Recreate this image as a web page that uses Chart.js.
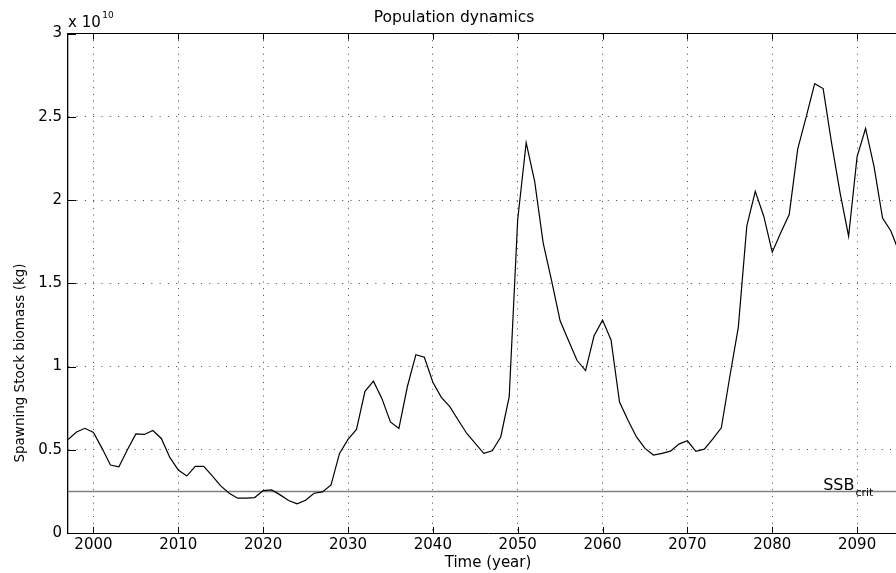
<!DOCTYPE html>
<html>
<head>
<meta charset="utf-8">
<script src="https://cdn.jsdelivr.net/npm/chart.js@4.4.1/dist/chart.umd.min.js"></script>
<style>
  html, body { margin: 0; padding: 0; background: #fff; overflow: hidden; }
  #wrap { width: 908px; height: 573px; }
</style>
</head>
<body>
<div id="wrap"><canvas id="myChart"></canvas></div>
<script>
// years shown on the x axis (the figure runs a bit past the right edge of the window)
const years = [
  1997, 1998, 1999, 2000, 2001, 2002, 2003, 2004, 2005, 2006,
  2007, 2008, 2009, 2010, 2011, 2012, 2013, 2014, 2015, 2016,
  2017, 2018, 2019, 2020, 2021, 2022, 2023, 2024, 2025, 2026,
  2027, 2028, 2029, 2030, 2031, 2032, 2033, 2034, 2035, 2036,
  2037, 2038, 2039, 2040, 2041, 2042, 2043, 2044, 2045, 2046,
  2047, 2048, 2049, 2050, 2051, 2052, 2053, 2054, 2055, 2056,
  2057, 2058, 2059, 2060, 2061, 2062, 2063, 2064, 2065, 2066,
  2067, 2068, 2069, 2070, 2071, 2072, 2073, 2074, 2075, 2076,
  2077, 2078, 2079, 2080, 2081, 2082, 2083, 2084, 2085, 2086,
  2087, 2088, 2089, 2090, 2091, 2092, 2093, 2094, 2095
];

// spawning stock biomass, in units of 1e10 kg
const ssb = [
  0.562, 0.607, 0.629, 0.604, 0.51, 0.408, 0.398, 0.50, 0.595, 0.592,
  0.616, 0.568, 0.454, 0.378, 0.342, 0.400, 0.400, 0.343, 0.283, 0.239,
  0.209, 0.209, 0.213, 0.255, 0.259, 0.229, 0.195, 0.175, 0.197, 0.239,
  0.247, 0.289, 0.478, 0.562, 0.622, 0.851, 0.912, 0.807, 0.667, 0.628,
  0.88, 1.071, 1.056, 0.906, 0.815, 0.759, 0.677, 0.598, 0.538, 0.478,
  0.494, 0.577, 0.819, 1.883, 2.345, 2.112, 1.743, 1.514, 1.275, 1.155,
  1.036, 0.976, 1.185, 1.279, 1.160, 0.787, 0.677, 0.577, 0.508, 0.468,
  0.478, 0.492, 0.534, 0.554, 0.490, 0.504, 0.565, 0.632, 0.94, 1.235,
  1.843, 2.052, 1.903, 1.687, 1.803, 1.913, 2.306, 2.500, 2.699, 2.670,
  2.341, 2.042, 1.783, 2.261, 2.430, 2.201, 1.892, 1.813, 1.68
];

const ssbCrit = 0.25;

const xTicks = [2000, 2010, 2020, 2030, 2040, 2050, 2060, 2070, 2080, 2090];
const yTicks = [0, 0.5, 1, 1.5, 2, 2.5, 3];
const xMin = 1997, xMax = 2096;

const family = "'DejaVu Sans', sans-serif";

// matlab style inward ticks, exponent, SSBcrit label and the y label
const decorations = {
  id: 'decorations',
  afterDraw(chart) {
    const ctx = chart.ctx;
    const area = chart.chartArea;
    const x = chart.scales.x, y = chart.scales.y;
    ctx.save();
    ctx.strokeStyle = '#000';
    ctx.lineWidth = 1;
    ctx.beginPath();
    xTicks.forEach(v => {
      const px = Math.round(x.getPixelForValue(v)) + 0.5;
      ctx.moveTo(px, area.bottom); ctx.lineTo(px, area.bottom - 6);
      ctx.moveTo(px, area.top); ctx.lineTo(px, area.top + 6);
    });
    yTicks.forEach(v => {
      const py = Math.round(y.getPixelForValue(v)) + 0.5;
      ctx.moveTo(area.left, py); ctx.lineTo(area.left + 8, py);
      ctx.moveTo(area.right, py); ctx.lineTo(area.right - 8, py);
    });
    ctx.stroke();

    ctx.fillStyle = '#000';
    ctx.textAlign = 'left';
    ctx.textBaseline = 'alphabetic';
    ctx.font = '15px ' + family;
    ctx.fillText('x 10', area.left, 27);
    let w = ctx.measureText('x 10').width;
    ctx.font = '9px ' + family;
    ctx.fillText('10', area.left + w + 1.5, 18);

    const lx = x.getPixelForValue(2086);
    const ly = y.getPixelForValue(ssbCrit) - 1;
    ctx.font = '16px ' + family;
    ctx.fillText('SSB', lx, ly);
    w = ctx.measureText('SSB').width;
    ctx.font = '11px ' + family;
    ctx.fillText('crit', lx + w + 1, ly + 6);

    ctx.translate(20, 363);
    ctx.rotate(-Math.PI / 2);
    ctx.textAlign = 'center';
    ctx.textBaseline = 'middle';
    ctx.font = '13.5px ' + family;
    ctx.fillText('Spawning Stock biomass (kg)', 0, 0);
    ctx.restore();
  }
};

const points = years.map((yr, i) => ({ x: yr, y: ssb[i] }));

new Chart(document.getElementById('myChart'), {
  type: 'line',
  data: {
    datasets: [
      {
        data: points,
        borderColor: '#000',
        borderWidth: 1.2,
        pointRadius: 0,
        tension: 0
      },
      {
        data: [{ x: xMin, y: ssbCrit }, { x: xMax, y: ssbCrit }],
        borderColor: '#808080',
        borderWidth: 1.5,
        pointRadius: 0
      }
    ]
  },
  options: {
    animation: false,
    responsive: true,
    maintainAspectRatio: false,
    layout: { padding: 0 },
    plugins: {
      legend: { display: false },
      tooltip: { enabled: false },
      title: {
        display: true,
        text: 'Population dynamics',
        color: '#000',
        font: { family: family, size: 15.5, weight: 'normal' },
        padding: { top: 9, bottom: 6 }
      }
    },
    scales: {
      x: {
        type: 'linear',
        position: 'bottom',
        min: xMin,
        max: xMax,
        afterBuildTicks: s => { s.ticks = xTicks.map(v => ({ value: v })); },
        afterFit: s => { s.height = 40; },
        ticks: {
          callback: v => String(v),
          color: '#000',
          font: { family: family, size: 15 },
          padding: 3,
          maxRotation: 0,
          autoSkip: false
        },
        grid: { color: '#444', lineWidth: 1, drawTicks: false },
        border: { display: true, color: '#000', width: 1, dash: [1, 5.7] },
        title: {
          display: true,
          text: 'Time (year)',
          color: '#000',
          font: { family: family, size: 15 },
          padding: { top: 0, bottom: 1 }
        }
      },
      x2: {
        type: 'linear',
        position: 'top',
        min: xMin,
        max: xMax,
        ticks: { display: false },
        grid: { display: false, drawTicks: false },
        border: { display: true, color: '#000', width: 1 },
        afterFit: s => { s.height = 0; }
      },
      y: {
        min: 0,
        max: 3,
        afterBuildTicks: s => { s.ticks = yTicks.map(v => ({ value: v })); },
        afterFit: s => { s.width = 68; },
        ticks: {
          callback: v => String(v),
          color: '#000',
          font: { family: family, size: 15 },
          padding: 6
        },
        grid: { color: '#444', lineWidth: 1, drawTicks: false },
        border: { display: true, color: '#000', width: 1.3, dash: [1, 7.3] }
      }
    }
  },
  plugins: [decorations]
});
</script>
</body>
</html>
